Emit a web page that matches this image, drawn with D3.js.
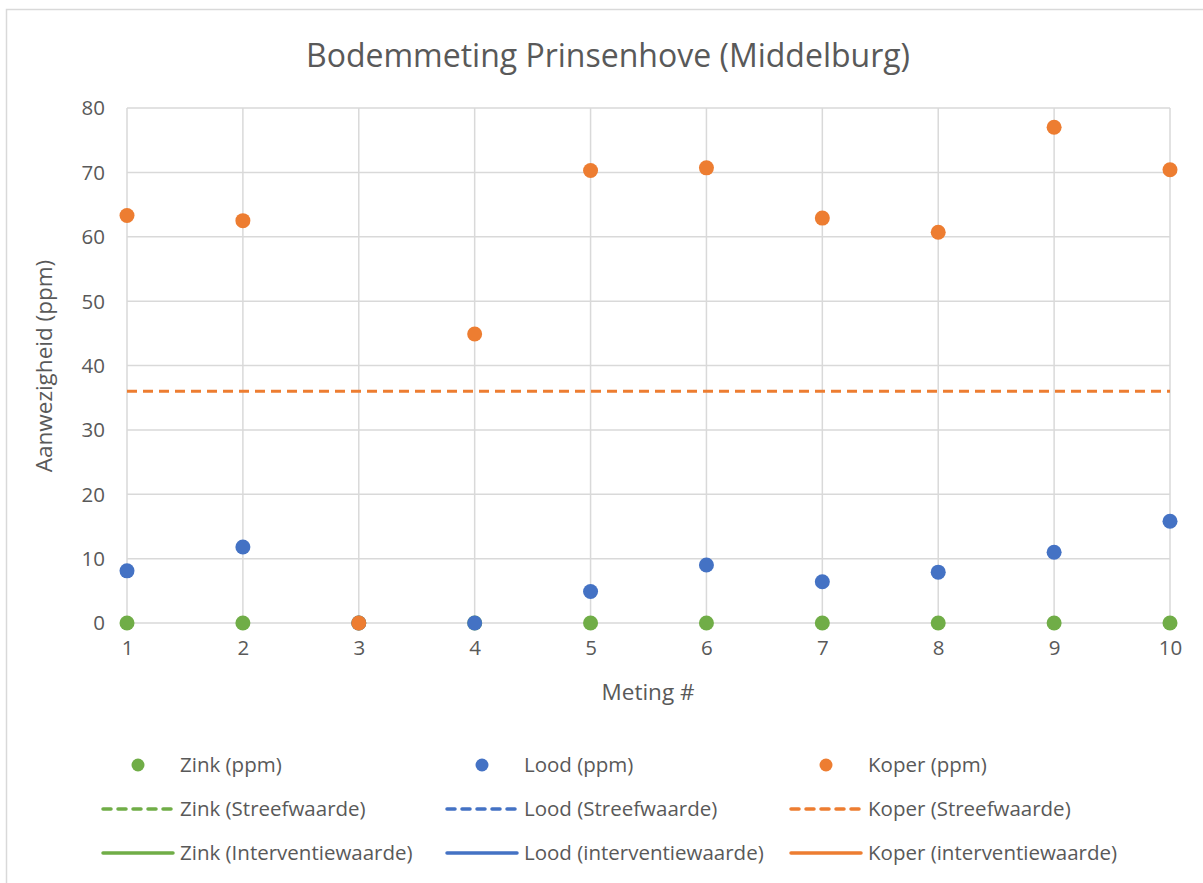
<!DOCTYPE html>
<html>
<head>
<meta charset="utf-8">
<script src="https://cdn.jsdelivr.net/npm/d3@7"></script>
<style>
  body { margin: 0; background: #fff; }
  text { font-family: "Open Sans", sans-serif; fill: #595959; }
</style>
</head>
<body>
<div id="chart"></div>
<script>
// data
const metingen = [1, 2, 3, 4, 5, 6, 7, 8, 9, 10];
const zink = [0, 0, 0, 0, 0, 0, 0, 0, 0, 0];
const lood = [8.1, 11.8, 0, 0, 4.9, 9.0, 6.4, 7.9, 11.0, 15.8];
const koper = [63.3, 62.5, 0, 44.9, 70.3, 70.7, 62.9, 60.7, 77.0, 70.4];
const koperStreef = 36;
const yTicks = [0, 10, 20, 30, 40, 50, 60, 70, 80];

const legendItems = [
  { label: "Zink (ppm)", color: "#70AD47", type: "dot" },
  { label: "Lood (ppm)", color: "#4472C4", type: "dot" },
  { label: "Koper (ppm)", color: "#ED7D31", type: "dot" },
  { label: "Zink (Streefwaarde)", color: "#70AD47", type: "dash" },
  { label: "Lood (Streefwaarde)", color: "#4472C4", type: "dash" },
  { label: "Koper (Streefwaarde)", color: "#ED7D31", type: "dash" },
  { label: "Zink (Interventiewaarde)", color: "#70AD47", type: "line" },
  { label: "Lood (interventiewaarde)", color: "#4472C4", type: "line" },
  { label: "Koper (interventiewaarde)", color: "#ED7D31", type: "line" }
];

const width = 1203, height = 883;
const svg = d3.select("#chart").append("svg")
  .attr("width", width)
  .attr("height", height);

// chart border
svg.append("rect")
  .attr("x", 6.5).attr("y", 9.5)
  .attr("width", 1210).attr("height", 900)
  .attr("fill", "#fff")
  .attr("stroke", "#d9d9d9")
  .attr("stroke-width", 1.5);

const x = d3.scaleLinear().domain([1, 10]).range([127, 1170]);
const y = d3.scaleLinear().domain([0, 80]).range([623, 108]);

// gridlines
svg.append("g").selectAll("line.h")
  .data(yTicks).join("line")
  .attr("x1", x(1)).attr("x2", x(10))
  .attr("y1", d => y(d)).attr("y2", d => y(d))
  .attr("stroke", "#d9d9d9").attr("stroke-width", 1.5);

svg.append("g").selectAll("line.v")
  .data(metingen).join("line")
  .attr("x1", d => x(d)).attr("x2", d => x(d))
  .attr("y1", y(0)).attr("y2", y(80))
  .attr("stroke", "#d9d9d9").attr("stroke-width", 1.5);

// axes (labels only, Excel style)
const yAxis = svg.append("g")
  .attr("transform", `translate(${x(1) - 22},0)`)
  .call(d3.axisLeft(y).tickValues(yTicks).tickSize(0).tickPadding(0));
yAxis.select(".domain").remove();
yAxis.selectAll("text").style("font-size", "20.5px").attr("fill", "#595959").attr("dy", "0.34em");

const xAxis = svg.append("g")
  .attr("transform", `translate(0,${y(0) + 17})`)
  .call(d3.axisBottom(x).tickValues(metingen).tickFormat(d3.format("d")).tickSize(0).tickPadding(0));
xAxis.select(".domain").remove();
xAxis.selectAll("text").style("font-size", "20.5px").attr("fill", "#595959");

// streefwaarde koper
svg.append("line")
  .attr("x1", x(1)).attr("x2", x(10))
  .attr("y1", y(koperStreef)).attr("y2", y(koperStreef))
  .attr("stroke", "#ED7D31").attr("stroke-width", 3)
  .attr("stroke-dasharray", "10,6");

// scatter series
const series = [
  { values: zink, color: "#70AD47" },
  { values: lood, color: "#4472C4" },
  { values: koper, color: "#ED7D31" }
];
series.forEach(s => {
  svg.append("g").selectAll("circle")
    .data(s.values).join("circle")
    .attr("cx", (d, i) => x(metingen[i]))
    .attr("cy", d => y(d))
    .attr("r", 7.5)
    .attr("fill", s.color);
});

// titles
svg.append("text")
  .attr("x", 608).attr("y", 67)
  .attr("text-anchor", "middle")
  .style("font-size", "32px")
  .text("Bodemmeting Prinsenhove (Middelburg)");

svg.append("text")
  .attr("x", 648).attr("y", 700)
  .attr("text-anchor", "middle")
  .style("font-size", "22.5px")
  .text("Meting #");

svg.append("text")
  .attr("transform", "translate(52,366) rotate(-90)")
  .attr("text-anchor", "middle")
  .style("font-size", "22.5px")
  .text("Aanwezigheid (ppm)");

// legend
const legend = svg.append("g");
legendItems.forEach((item, i) => {
  const col = i % 3, row = Math.floor(i / 3);
  const lx = 103 + col * 344;
  const ly = 765 + row * 44;
  if (item.type === "dot") {
    legend.append("circle")
      .attr("cx", lx + 35).attr("cy", ly)
      .attr("r", 6.5).attr("fill", item.color);
  } else {
    legend.append("line")
      .attr("x1", lx).attr("x2", lx + 70)
      .attr("y1", ly).attr("y2", ly)
      .attr("stroke", item.color).attr("stroke-width", 3.5)
      .attr("stroke-linecap", "round")
      .attr("stroke-dasharray", item.type === "dash" ? "8,7" : null);
  }
  legend.append("text")
    .attr("x", lx + 77).attr("y", ly)
    .attr("dy", "0.35em")
    .style("font-size", "20.5px")
    .text(item.label);
});
</script>
</body>
</html>
